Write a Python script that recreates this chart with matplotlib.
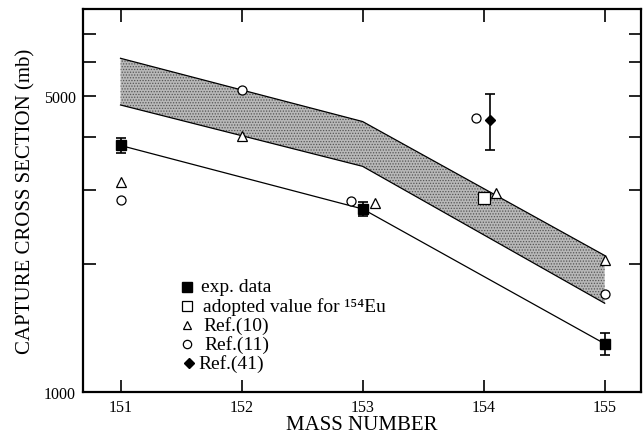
import numpy as np
import matplotlib
matplotlib.use("Agg")
from matplotlib import pyplot as plt

plt.rcParams["font.family"] = ["Liberation Serif", "DejaVu Serif"]
plt.rcParams["hatch.color"] = "#555555"
plt.rcParams["hatch.linewidth"] = 0.6

# exp. data
exp_mass = [151, 153, 155]
exp_val = [3820, 2705, 1300]
exp_err = [160, 100, 80]

# evaluated band (upper / lower edges)
band_mass = [151, 153, 155]
band_hi = [6135, 4350, 2100]
band_lo = [4760, 3410, 1620]

# adopted value for 154Eu
adopt_mass = [154.0]
adopt_val = [2866]

# Ref.(10)
r10_mass = [151, 152, 153.1, 154.1, 155]
r10_val = [3140, 4020, 2795, 2945, 2045]

# Ref.(11)
r11_mass = [151, 152, 152.9, 153.94, 155]
r11_val = [2845, 5170, 2820, 4430, 1700]

# Ref.(41)
r41_mass = [154.05]
r41_val = [4395]
r41_lo = [3735]
r41_hi = [5055]

legend_labels = ["exp. data", "adopted value for \u00b9\u2075\u2074Eu", "Ref.(10)", "Ref.(11)", "Ref.(41)"]

W, H = 644, 435
fig = plt.figure(figsize=(W / 100, H / 100), dpi=100)
ax = fig.add_axes([83 / W, 1 - 393 / H, 558 / W, 383 / H])

ax.fill_between(band_mass, band_lo, band_hi, facecolor="#b8b8b8",
                hatch="......", edgecolor="none", linewidth=0, zorder=1)
ax.plot(band_mass, band_hi, color="black", lw=0.9, zorder=2)
ax.plot(band_mass, band_lo, color="black", lw=0.9, zorder=2)

ax.plot(exp_mass, exp_val, color="black", lw=0.9, zorder=2)
ax.errorbar(exp_mass, exp_val, yerr=exp_err, fmt="s", color="black", ms=6.5,
            capsize=3.3, elinewidth=1.2, capthick=1.2, zorder=4)
ax.plot(adopt_mass, adopt_val, "s", mfc="white", mec="black", ms=8.5, mew=0.9, zorder=4)
ax.plot(r10_mass, r10_val, "^", mfc="white", mec="black", ms=6.5, mew=0.9, zorder=4)
ax.plot(r11_mass, r11_val, "o", mfc="white", mec="black", ms=6.5, mew=0.9, zorder=4)
r41_err = [[v - l for v, l in zip(r41_val, r41_lo)], [h - v for v, h in zip(r41_val, r41_hi)]]
ax.errorbar(r41_mass, r41_val, yerr=r41_err, fmt="D", color="black", ms=5,
            capsize=3.6, elinewidth=1.2, capthick=1.2, zorder=4)

ax.set_yscale("log")
ax.set_ylim(1000, 8020)
ax.set_xlim(150.69, 155.3)
ax.set_xticks([151, 152, 153, 154, 155])
ax.set_yticks([1000, 5000])
ax.set_yticklabels(["1000", "5000"])
ax.set_yticks([2000, 3000, 4000, 6000, 7000], minor=True)
ax.yaxis.set_minor_formatter(matplotlib.ticker.NullFormatter())
ax.tick_params(which="both", direction="in", length=9, width=1.2,
               top=True, right=True, labelsize=11.5, pad=5)

for sp in ax.spines.values():
    sp.set_linewidth(1.6)

ax.set_xlabel("MASS NUMBER", fontsize=15, labelpad=0)
ax.set_ylabel("CAPTURE CROSS SECTION (mb)", fontsize=15, labelpad=6)

# legend drawn by hand (pixel positions of the key)
leg_style = [
    dict(marker="s", mfc="black", mec="black", ms=6.5),
    dict(marker="s", mfc="white", mec="black", ms=6.5, mew=0.9),
    dict(marker="^", mfc="white", mec="black", ms=6, mew=0.9),
    dict(marker="o", mfc="white", mec="black", ms=6, mew=0.9),
    dict(marker="D", mfc="black", mec="black", ms=5),
]
leg_y = [288, 307, 326, 345, 364]
leg_tx = [201, 203, 203, 204, 198]
for lab, st, py, tx in zip(legend_labels, leg_style, leg_y, leg_tx):
    mx = 187 if st["marker"] != "D" else 189
    fig.add_artist(plt.Line2D([mx / W], [1 - py / H], transform=fig.transFigure,
                              linestyle="none", **st))
    fig.text(tx / W, 1 - py / H, lab, fontsize=14, va="center", ha="left")

fig.savefig("out.png", dpi=100)
